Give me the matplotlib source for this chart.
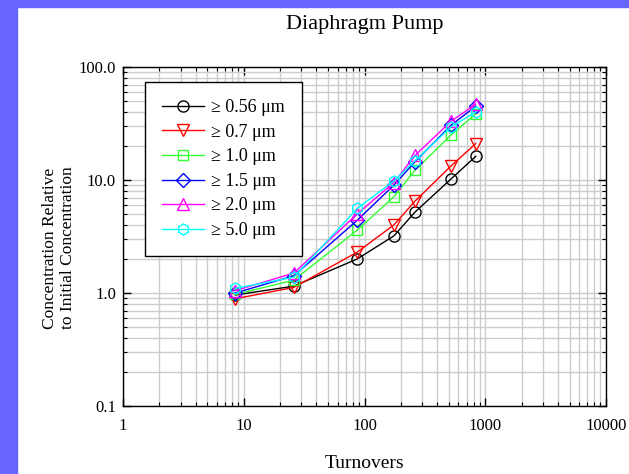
import matplotlib
matplotlib.use("Agg")
import matplotlib.pyplot as plt
from matplotlib.patches import Rectangle
from matplotlib.ticker import FixedLocator, FixedFormatter, LogLocator, NullFormatter

plt.rcParams["font.family"] = ["Liberation Serif", "DejaVu Serif"]

turnovers = [8.5, 26, 87, 175, 262, 520, 835]

sizes = ["0.56", "0.7", "1.0", "1.5", "2.0", "5.0"]
conc_056 = [0.96, 1.15, 2.0, 3.2, 5.2, 10.2, 16.2]
conc_07 = [0.89, 1.12, 2.3, 4.0, 6.5, 13.3, 21.0]
conc_10 = [0.97, 1.30, 3.6, 7.1, 12.2, 25.0, 38.5]
conc_15 = [1.0, 1.42, 4.4, 9.0, 14.5, 30.5, 45.0]
conc_20 = [1.05, 1.50, 5.0, 9.5, 16.5, 33.0, 47.0]
conc_50 = [1.1, 1.38, 5.6, 9.8, 14.8, 29.5, 40.0]

colors = ["black", "red", "#33ff33", "blue", "magenta", "cyan"]
markers = ["o", "v", "s", "D", "^", "h"]
marker_sizes = [8, 8, 7.5, 7, 8, 8]

x_ticks = [1, 10, 100, 1000, 10000]
x_tick_labels = ["1", "10", "100", "1000", "10000"]
y_ticks = [0.1, 1, 10, 100]
y_tick_labels = ["0.1", "1.0", "10.0", "100.0"]

W, H = 629, 474
fig = plt.figure(figsize=(W / 100, H / 100), dpi=100)
fig.patch.set_facecolor("white")
band = "#6666ff"
fig.patches.append(Rectangle((0, 0), 17 / W, 1, transform=fig.transFigure,
                             color=band, zorder=0))
fig.patches.append(Rectangle((0, 1 - 7 / H), 1, 7 / H, transform=fig.transFigure,
                             color=band, zorder=0))

# axes box in pixels: x 123..606, y 67..406
ax = fig.add_axes([123 / W, 1 - 406 / H, 483 / W, 339 / H])
ax.set_xscale("log")
ax.set_yscale("log")
ax.set_xlim(1, 10000)
ax.set_ylim(0.1, 100)

series = [conc_056, conc_07, conc_10, conc_15, conc_20, conc_50]
for vals, size, c, m, ms in zip(series, sizes, colors, markers, marker_sizes):
    ax.plot(turnovers, vals, color=c, marker=m, markersize=ms, markerfacecolor="none",
            markeredgecolor=c, markeredgewidth=1.0, linewidth=1.0,
            label=f"\u2265 {size} \u03bcm", zorder=3)

ax.xaxis.set_major_locator(FixedLocator(x_ticks))
ax.xaxis.set_major_formatter(FixedFormatter(x_tick_labels))
ax.yaxis.set_major_locator(FixedLocator(y_ticks))
ax.yaxis.set_major_formatter(FixedFormatter(y_tick_labels))
ax.xaxis.set_minor_locator(LogLocator(base=10, subs=range(2, 10), numticks=20))
ax.yaxis.set_minor_locator(LogLocator(base=10, subs=range(2, 10), numticks=20))
ax.xaxis.set_minor_formatter(NullFormatter())
ax.yaxis.set_minor_formatter(NullFormatter())

ax.grid(True, which="both", color="#cccccc", linewidth=1.0, zorder=0)
ax.set_axisbelow(True)
ax.tick_params(which="both", direction="in", labelsize=12, top=True, right=True)
ax.tick_params(which="major", length=6, width=1)
ax.tick_params(which="minor", length=3, width=0.8)
ax.tick_params(axis="x", pad=9)
ax.tick_params(axis="y", pad=5)
for side in ax.spines:
    ax.spines[side].set_linewidth(1.0)

fig.text(364.5 / W, 1 - 29 / H, "Diaphragm Pump", fontsize=16,
         ha="center", va="baseline")
fig.text(364.5 / W, 1 - 463 / H, "Turnovers", fontsize=14,
         ha="center", va="center")
fig.text(59 / W, 1 - 248 / H, "Concentration Relative\nto Initial Concentration",
         fontsize=12.5, rotation=90, ha="center", va="center",
         multialignment="center", linespacing=1.15)

leg = ax.legend(loc="upper left", bbox_to_anchor=((145 - 123) / 483, (406 - 82) / 339),
                borderaxespad=0, fontsize=13, frameon=True, fancybox=False,
                edgecolor="black", framealpha=1, handlelength=2.3,
                labelspacing=0.42, borderpad=0.95, handletextpad=0.4)
leg.get_frame().set_linewidth(1.0)

fig.savefig("out.png", dpi=100)
